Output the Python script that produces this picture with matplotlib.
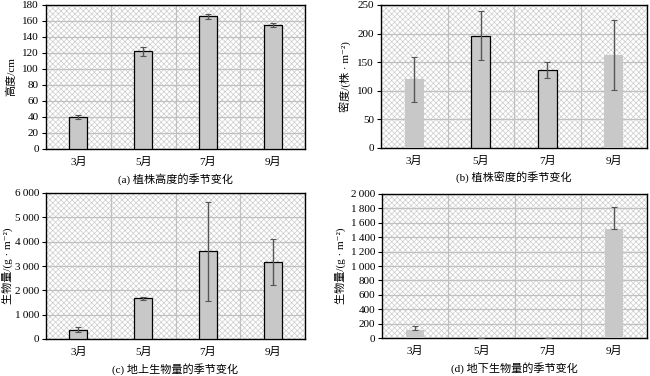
import matplotlib
matplotlib.use("Agg")
import matplotlib.pyplot as plt
from matplotlib.ticker import FuncFormatter, MultipleLocator, FixedLocator

plt.rcParams['font.family'] = ['Liberation Serif', 'Noto Sans CJK SC', 'DejaVu Sans']
plt.rcParams['hatch.linewidth'] = 0.5
plt.rcParams['hatch.color'] = '#cccccc'

months = ['3月', '5月', '7月', '9月']

height_vals = [40, 122, 166, 155]
height_err = [2, 6, 3, 2]

density_vals = [120, 196, 137, 163]
density_err = [39, 43, 14, 61]

above_vals = [385, 1665, 3605, 3150]
above_err = [95, 80, 2030, 950]

below_vals = [115, 0, 0, 1520]
below_err = [50, 0, 0, 300]

captions = ['(a) 植株高度的季节变化', '(b) 植株密度的季节变化',
            '(c) 地上生物量的季节变化', '(d) 地下生物量的季节变化']
ylabels = ['高度/cm', '密度/(株 · m⁻²)', '生物量/(g · m⁻²)', '生物量/(g · m⁻²)']

W, H = 650, 376
fig = plt.figure(figsize=(6.5, 3.76), dpi=100)

def rect(l, t, r, b):
    return [l / W, 1 - b / H, (r - l) / W, (b - t) / H]

boxes = [rect(46, 5, 305, 149), rect(381, 5, 647, 148),
         rect(46, 193, 305, 339), rect(382, 194, 647, 338)]

def sep_fmt(v, pos):
    s = f"{int(round(v)):,}"
    return s.replace(',', '\u2009')

panels = [
    (height_vals, height_err, (0, 180), 20, False, [True, True, True, True], False, 4),
    (density_vals, density_err, (0, 250), 50, False, [False, True, True, False], False, 4),
    (above_vals, above_err, (0, 6000), 1000, True, [True, True, True, True], False, 1),
    (below_vals, below_err, (0, 2000), 200, True, [False, False, False, False], True, 3),
]

for i, (vals, errs, ylim, step, sep, edges, upper_only, lpad) in enumerate(panels):
    ax = fig.add_axes(boxes[i])
    ax.patch.set_facecolor('white')
    ax.patch.set_hatch('xxxxxx')
    ax.patch.set_edgecolor('#cccccc')
    ax.patch.set_linewidth(0)
    x = list(range(len(months)))
    bars = ax.bar(x, vals, width=0.28, color='#c8c8c8', zorder=3)
    for b, e in zip(bars, edges):
        if e:
            b.set_edgecolor('black')
            b.set_linewidth(0.9)
    if upper_only:
        yerr = [[0] * len(errs), errs]
    else:
        yerr = errs
    ax.errorbar(x, vals, yerr=yerr, fmt='none', ecolor='#555555',
                elinewidth=1.0, capsize=2, capthick=0.8, zorder=4)
    ax.set_xlim(-0.5, 3.5)
    ax.set_ylim(*ylim)
    ax.yaxis.set_major_locator(MultipleLocator(step))
    if sep:
        ax.yaxis.set_major_formatter(FuncFormatter(sep_fmt))
    ax.set_xticks(x)
    ax.set_xticklabels(months)
    ax.xaxis.set_minor_locator(FixedLocator([0.5, 1.5, 2.5]))
    ax.grid(axis='y', which='major', color='#c0c0c0', linewidth=0.9, zorder=1)
    ax.grid(axis='x', which='minor', color='#c0c0c0', linewidth=0.9, zorder=1)
    ax.set_axisbelow(True)
    ax.tick_params(axis='x', which='both', length=0, labelsize=8, pad=6)
    ax.tick_params(axis='y', length=3, width=0.8, labelsize=8, pad=2)
    for s in ax.spines.values():
        s.set_linewidth(1.0)
        s.set_color('black')
    ax.set_ylabel(ylabels[i], fontsize=8, labelpad=lpad)
    ax.set_xlabel(captions[i], fontsize=8, labelpad=4)

fig.savefig('out.png', dpi=100)
